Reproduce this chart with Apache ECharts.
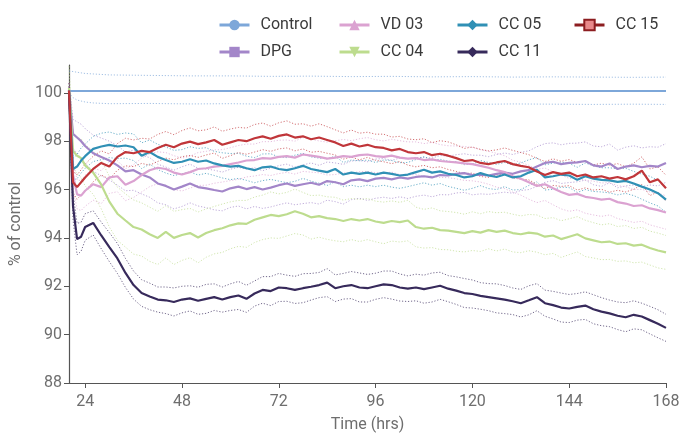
<!DOCTYPE html>
<html><head><meta charset="utf-8">
<script src="https://cdn.jsdelivr.net/npm/echarts@6/dist/echarts.min.js"></script>
<style>html,body{margin:0;padding:0;background:#fff}#c{width:683px;height:438px}</style>
</head><body><div id="c"></div>
<script>
// ---- data ----
const hours = [20,21,22,23,24,26,28,30,32,34,36,38,40,42,44,46,48,50,52,54,56,58,60,62,64,66,68,70,72,74,76,78,80,82,84,86,88,90,92,94,96,98,100,102,104,106,108,110,112,114,116,118,120,122,124,126,128,130,132,134,136,138,140,142,144,146,148,150,152,154,156,158,160,162,164,166,168];
const xTicks = [24,48,72,96,120,144,168];
const yTicks = [88,90,92,94,96,98,100];

const controlHours = [20,168];
const controlValues = [100.07,100.07];
const controlBandHours = [20,21,22,24,26,30,40,50,60,70,80,90,100,110,120,130,140,150,160,168];
const controlUpper = [100.9,100.88,100.85,100.8,100.78,100.74,100.72,100.7,100.7,100.68,100.69,100.67,100.68,100.66,100.67,100.65,100.66,100.65,100.64,100.65];
const controlLower = [100.0,99.8,99.7,99.62,99.58,99.55,99.56,99.54,99.55,99.53,99.55,99.54,99.53,99.54,99.52,99.54,99.53,99.52,99.53,99.52];

const dpg = [100.1,98.3,98.15,98.0,97.8,97.5,97.35,97.2,97.0,96.75,96.8,96.62,96.5,96.25,96.15,96.0,96.12,96.25,96.1,96.05,95.98,95.92,96.05,96.12,96.02,96.1,96.0,96.08,96.18,96.25,96.15,96.22,96.28,96.2,96.35,96.3,96.22,96.38,96.42,96.35,96.45,96.48,96.42,96.5,96.45,96.52,96.55,96.5,96.6,96.58,96.65,96.68,96.6,96.62,96.58,96.65,96.7,96.65,96.75,96.8,96.95,97.1,97.15,97.05,97.1,97.12,97.18,97.0,96.95,97.08,96.85,96.95,97.0,96.92,96.98,96.95,97.1];
const dpgSd = [0.3,0.6,0.65,0.7,0.72,0.75,0.78,0.8,0.82,0.8,0.83,0.8,0.82,0.8,0.78,0.8,0.82,0.8,0.78,0.8,0.82,0.8,0.79,0.8,0.82,0.8,0.78,0.8,0.81,0.8,0.78,0.8,0.82,0.8,0.79,0.8,0.82,0.8,0.78,0.8,0.81,0.8,0.79,0.8,0.82,0.8,0.78,0.8,0.81,0.8,0.79,0.8,0.82,0.8,0.78,0.8,0.81,0.8,0.79,0.8,0.82,0.8,0.78,0.8,0.81,0.8,0.79,0.8,0.82,0.8,0.78,0.8,0.81,0.8,0.79,0.8,0.8];

const vd03 = [100.1,96.6,95.8,95.75,95.95,96.22,96.1,96.5,96.55,96.2,96.35,96.6,96.8,96.9,96.85,96.7,96.62,96.72,96.85,96.88,96.95,96.98,97.05,97.12,97.2,97.22,97.3,97.28,97.35,97.38,97.32,97.45,97.4,97.35,97.28,97.32,97.38,97.35,97.42,97.45,97.38,97.35,97.4,97.32,97.28,97.3,97.22,97.25,97.18,97.15,97.12,97.08,97.05,96.98,96.9,96.8,96.72,96.55,96.45,96.3,96.15,96.22,96.05,95.9,95.78,95.82,95.7,95.65,95.58,95.62,95.48,95.42,95.32,95.35,95.22,95.15,95.05];
const vd03Sd = [0.3,0.55,0.6,0.62,0.64,0.66,0.68,0.66,0.64,0.66,0.68,0.7,0.68,0.66,0.68,0.7,0.68,0.66,0.68,0.7,0.69,0.67,0.68,0.7,0.68,0.66,0.68,0.7,0.69,0.67,0.68,0.7,0.68,0.66,0.68,0.7,0.69,0.67,0.68,0.7,0.68,0.66,0.68,0.7,0.69,0.67,0.68,0.7,0.68,0.66,0.68,0.7,0.69,0.67,0.68,0.7,0.68,0.66,0.68,0.7,0.69,0.67,0.68,0.7,0.68,0.66,0.68,0.7,0.69,0.67,0.68,0.7,0.68,0.66,0.68,0.7,0.69];

const cc04 = [100.2,97.6,97.4,97.3,97.0,96.7,96.2,95.5,95.0,94.72,94.45,94.35,94.15,94.0,94.25,94.0,94.12,94.2,94.02,94.2,94.32,94.4,94.52,94.6,94.58,94.75,94.85,94.95,94.9,94.98,95.1,95.0,94.85,94.9,94.82,94.78,94.7,94.78,94.72,94.78,94.68,94.62,94.7,94.65,94.72,94.45,94.38,94.42,94.32,94.3,94.25,94.2,94.28,94.22,94.32,94.25,94.3,94.2,94.15,94.22,94.18,94.05,94.1,93.95,94.05,94.15,93.98,93.9,93.82,93.85,93.75,93.78,93.68,93.72,93.58,93.48,93.4];
const cc04Sd = [0.9,0.7,0.75,0.8,0.85,0.9,1.0,1.05,1.1,1.1,1.12,1.1,1.12,1.1,1.08,1.1,1.05,1.02,1.05,1.0,0.98,1.0,0.97,0.95,0.97,0.94,0.92,0.95,0.92,0.9,0.92,0.88,0.9,0.87,0.88,0.9,0.86,0.85,0.87,0.85,0.84,0.86,0.83,0.82,0.84,0.82,0.8,0.82,0.8,0.79,0.8,0.78,0.8,0.78,0.77,0.79,0.76,0.78,0.76,0.75,0.77,0.75,0.74,0.76,0.74,0.73,0.75,0.73,0.72,0.74,0.72,0.73,0.71,0.72,0.7,0.72,0.7];

const cc05 = [100.1,96.85,96.95,97.2,97.38,97.68,97.78,97.85,97.78,97.82,97.75,97.4,97.55,97.35,97.22,97.1,97.15,97.25,97.15,97.2,97.08,97.0,96.95,96.98,96.88,96.8,96.92,96.95,96.85,96.8,96.88,96.98,96.85,96.78,96.72,96.85,96.62,96.7,96.65,96.7,96.62,96.7,96.65,96.58,96.62,96.72,96.82,96.7,96.75,96.65,96.6,96.5,96.55,96.68,96.58,96.52,96.62,96.5,96.55,96.7,96.82,96.5,96.55,96.62,96.58,96.4,96.55,96.45,96.4,96.38,96.32,96.36,96.25,96.12,96.0,95.85,95.58];
const cc05Sd = [0.3,0.45,0.5,0.52,0.5,0.52,0.55,0.53,0.5,0.52,0.55,0.53,0.5,0.52,0.54,0.52,0.5,0.52,0.55,0.53,0.5,0.52,0.54,0.52,0.5,0.52,0.55,0.53,0.5,0.52,0.54,0.52,0.5,0.52,0.55,0.53,0.5,0.52,0.54,0.52,0.5,0.52,0.55,0.53,0.5,0.52,0.54,0.52,0.5,0.52,0.55,0.53,0.5,0.52,0.54,0.52,0.5,0.52,0.55,0.53,0.5,0.52,0.54,0.52,0.5,0.52,0.55,0.53,0.5,0.52,0.54,0.52,0.5,0.52,0.55,0.53,0.52];

const cc11 = [100.0,95.3,93.95,94.05,94.45,94.62,94.1,93.62,93.15,92.55,92.05,91.72,91.58,91.45,91.42,91.35,91.45,91.5,91.4,91.48,91.55,91.45,91.55,91.62,91.48,91.7,91.85,91.8,91.95,91.92,91.85,91.92,91.98,92.05,92.15,91.92,92.0,92.05,91.95,91.92,92.0,92.08,92.05,91.95,91.9,91.95,91.88,91.95,92.02,91.9,91.82,91.72,91.68,91.6,91.55,91.5,91.45,91.38,91.3,91.42,91.55,91.3,91.22,91.12,91.08,91.15,91.2,91.05,90.95,90.88,90.78,90.72,90.82,90.75,90.6,90.45,90.28];
const cc11Sd = [0.25,0.55,0.65,0.6,0.55,0.5,0.55,0.6,0.62,0.6,0.58,0.55,0.55,0.52,0.55,0.58,0.55,0.52,0.56,0.6,0.55,0.52,0.55,0.58,0.56,0.52,0.55,0.6,0.58,0.54,0.56,0.6,0.55,0.52,0.58,0.55,0.53,0.56,0.6,0.57,0.54,0.55,0.58,0.56,0.53,0.55,0.58,0.6,0.56,0.54,0.57,0.6,0.58,0.55,0.56,0.6,0.58,0.55,0.57,0.6,0.56,0.54,0.57,0.6,0.58,0.55,0.57,0.6,0.58,0.55,0.57,0.6,0.58,0.55,0.57,0.58,0.56];

const cc15 = [100.1,96.3,96.1,96.3,96.5,96.85,97.1,96.95,97.35,97.55,97.5,97.6,97.55,97.72,97.85,97.75,97.9,97.98,97.88,97.95,98.05,97.85,97.95,98.05,98.0,98.12,98.2,98.1,98.22,98.28,98.15,98.2,98.08,98.15,98.05,97.95,97.8,97.9,97.78,97.85,97.75,97.72,97.62,97.68,97.55,97.5,97.55,97.42,97.48,97.4,97.3,97.18,97.22,97.1,97.05,97.12,97.18,97.05,96.98,96.92,96.75,96.6,96.72,96.65,96.7,96.55,96.62,96.5,96.55,96.45,96.52,96.42,96.55,96.78,96.3,96.42,96.05];
const cc15Sd = [0.3,0.45,0.5,0.52,0.55,0.53,0.5,0.52,0.55,0.57,0.55,0.52,0.54,0.56,0.55,0.52,0.54,0.57,0.55,0.52,0.54,0.56,0.55,0.52,0.54,0.57,0.55,0.52,0.54,0.56,0.55,0.52,0.54,0.57,0.55,0.52,0.54,0.56,0.55,0.52,0.54,0.57,0.55,0.52,0.54,0.56,0.55,0.52,0.54,0.57,0.55,0.52,0.54,0.56,0.55,0.52,0.54,0.57,0.55,0.52,0.54,0.56,0.55,0.52,0.54,0.57,0.55,0.52,0.54,0.56,0.55,0.52,0.54,0.57,0.55,0.52,0.54];

// ---- chart ----
const FONT = 'Roboto';
const groups = [
  {name:'DPG', vals:dpg, sd:dpgSd, color:'#a386c9', symbol:'rect'},
  {name:'VD 03', vals:vd03, sd:vd03Sd, color:'#dba2d1', symbol:'triangle'},
  {name:'CC 04', vals:cc04, sd:cc04Sd, color:'#bddc8e', symbol:'triangle', rotate:180},
  {name:'CC 05', vals:cc05, sd:cc05Sd, color:'#3090b5', symbol:'diamond'},
  {name:'CC 11', vals:cc11, sd:cc11Sd, color:'#372a5b', symbol:'diamond'},
  {name:'CC 15', vals:cc15, sd:cc15Sd, color:'#c0363a', symbol:'rect', fill:'#e8898b', border:'#8c1d20'}
];
const pair = (xs, ys) => xs.map((h,i)=>[h, ys[i]]);
const series = [];
function band(name, data, color){
  series.push({name:name, type:'line', data:data, showSymbol:false, silent:true, z:1,
    lineStyle:{color:color, width:1, type:[1.2,1.8], opacity:0.7}, emphasis:{disabled:true}});
}
band('ctl_u', pair(controlBandHours, controlUpper), '#7da7d9');
band('ctl_l', pair(controlBandHours, controlLower), '#7da7d9');
groups.forEach(g=>{
  band(g.name+'_u', hours.map((h,i)=>[h, +(g.vals[i]+g.sd[i]).toFixed(3)]), g.color);
  band(g.name+'_l', hours.map((h,i)=>[h, +(g.vals[i]-g.sd[i]).toFixed(3)]), g.color);
});
series.push({name:'Control', type:'line', data:pair(controlHours, controlValues), showSymbol:false, symbol:'circle', z:3,
  itemStyle:{color:'#7da7d9'}, lineStyle:{color:'#7da7d9', width:2}});
groups.forEach(g=>{
  series.push({name:g.name, type:'line', data:pair(hours, g.vals), showSymbol:false, symbol:g.symbol, symbolRotate:g.rotate||0, z:3,
    itemStyle: g.fill ? {color:g.fill, borderColor:g.border, borderWidth:1.5} : {color:g.color},
    lineStyle:{color:g.color, width:2.2}});
});

const legendBase = {orient:'vertical', top:17, itemWidth:30, itemHeight:13, itemGap:11, padding:0,
  textStyle:{fontFamily:FONT, fontSize:16, color:'#3a3a3a', padding:[0,0,0,6]},
  lineStyle:{width:3}};
const legends = [
  Object.assign({}, legendBase, {left:218, data:['Control','DPG']}),
  Object.assign({}, legendBase, {left:338, data:['VD 03','CC 04']}),
  Object.assign({}, legendBase, {left:456, data:['CC 05','CC 11']}),
  Object.assign({}, legendBase, {left:573, data:[{name:'CC 15', lineStyle:{color:'#8c1d20', width:3}}]})
];

const axisCommon = {
  axisLine:{show:true, lineStyle:{color:'#555', width:1.2}},
  splitLine:{show:false},
  nameTextStyle:{fontFamily:FONT, fontSize:16, color:'#6e6e6e'}
};
const chart = echarts.init(document.getElementById('c'), null, {renderer:'canvas'});
chart.setOption({
  animation:false,
  backgroundColor:'#fff',
  grid:{left:69, right:17, top:65, bottom:49, containLabel:false},
  legend: legends,
  xAxis: Object.assign({}, axisCommon, {
    type:'value', min:20, max:168, name:'Time (hrs)', nameLocation:'middle', nameGap:34,
    axisTick:{show:true, length:5, lineStyle:{color:'#555'}, customValues:xTicks},
    axisLabel:{customValues:xTicks, fontFamily:FONT, fontSize:16, color:'#6e6e6e', margin:11}
  }),
  yAxis: Object.assign({}, axisCommon, {
    type:'value', min:88, max:101.15, name:'% of control', nameLocation:'middle', nameGap:42,
    axisTick:{show:true, length:5, lineStyle:{color:'#555'}, customValues:yTicks},
    axisLabel:{customValues:yTicks, fontFamily:FONT, fontSize:16, color:'#6e6e6e', margin:7}
  }),
  series: series
});
</script></body></html>
